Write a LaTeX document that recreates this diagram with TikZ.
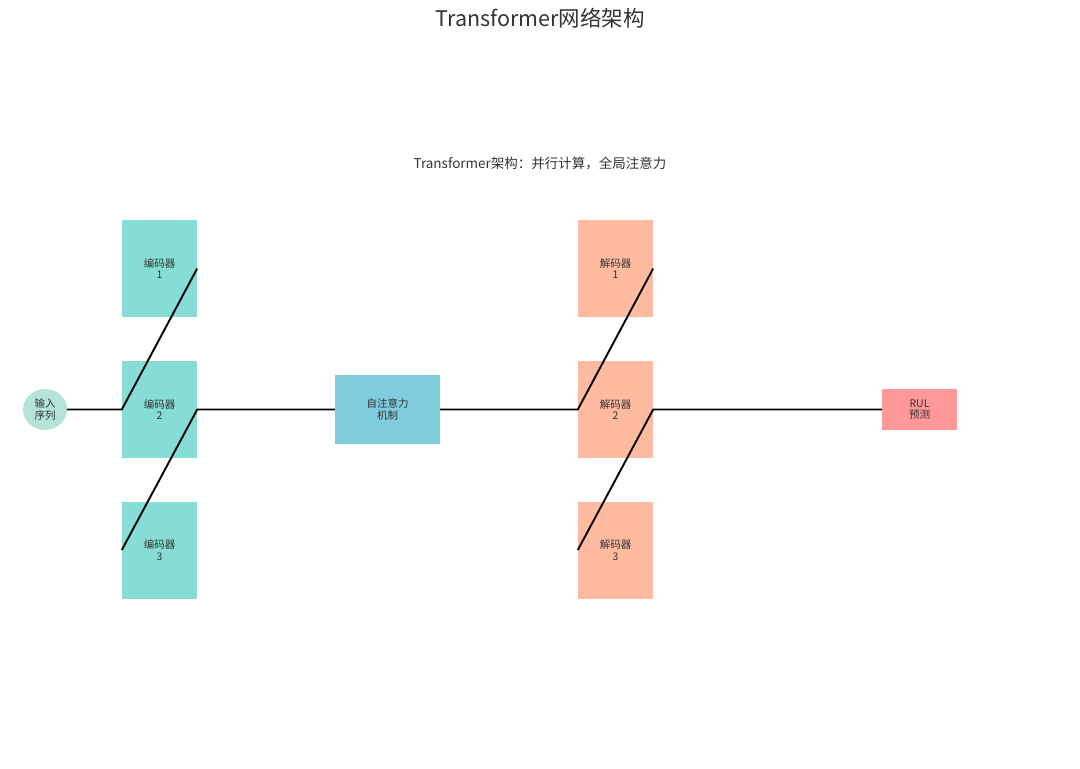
\documentclass[tikz,border=0pt]{standalone}
\usepackage{fontspec}
\setmainfont{Noto Sans CJK SC}
\usetikzlibrary{shapes.geometric}
\definecolor{enc}{HTML}{86DDD5}
\definecolor{dec}{HTML}{FFBBA0}
\definecolor{att}{HTML}{7ECCDE}
\definecolor{rul}{HTML}{FF9999}
\definecolor{inp}{HTML}{B4E4D8}
\definecolor{txt}{HTML}{333333}
\begin{document}
\begin{tikzpicture}[x=1pt,y=-1pt,
  box/.style={rectangle,inner sep=0pt,align=center,font=\fontsize{10.5}{11.5}\selectfont,text=txt},
  encbox/.style={box,fill=enc,minimum width=75pt,minimum height=97pt},
  decbox/.style={box,fill=dec,minimum width=75pt,minimum height=97pt},
  link/.style={black,line width=1.9pt}]
\useasboundingbox (0,0) rectangle (1080,769);
\node[font=\fontsize{21.5}{24}\selectfont,text=txt] (title) at (540,18) {Transformer网络架构};
\node[font=\fontsize{13.5}{15}\selectfont,text=txt] (sub) at (540,163) {Transformer架构：并行计算，全局注意力};
\node[ellipse,fill=inp,minimum width=44pt,minimum height=41pt,inner sep=0pt,align=center,font=\fontsize{10.5}{11.5}\selectfont,text=txt] (in) at (45,409.5) {输入\\序列};
\node[encbox] (e1) at (159.5,268.5) {编码器\\1};
\node[encbox] (e2) at (159.5,409.5) {编码器\\2};
\node[encbox] (e3) at (159.5,550) {编码器\\3};
\node[box,fill=att,minimum width=105pt,minimum height=69pt] (at) at (387.5,409.5) {自注意力\\机制};
\node[decbox] (d1) at (615.5,268.5) {解码器\\1};
\node[decbox] (d2) at (615.5,409.5) {解码器\\2};
\node[decbox] (d3) at (615.5,550) {解码器\\3};
\node[box,fill=rul,minimum width=75pt,minimum height=41pt] (rul) at (919.5,409.5) {RUL\\预测};
\draw[link] (in.east) -- (e2.west) -- (e1.east);
\draw[link] (e3.west) -- (e2.east) -- (at.west);
\draw[link] (at.east) -- (d2.west) -- (d1.east);
\draw[link] (d3.west) -- (d2.east) -- (rul.west);
\end{tikzpicture}
\end{document}
